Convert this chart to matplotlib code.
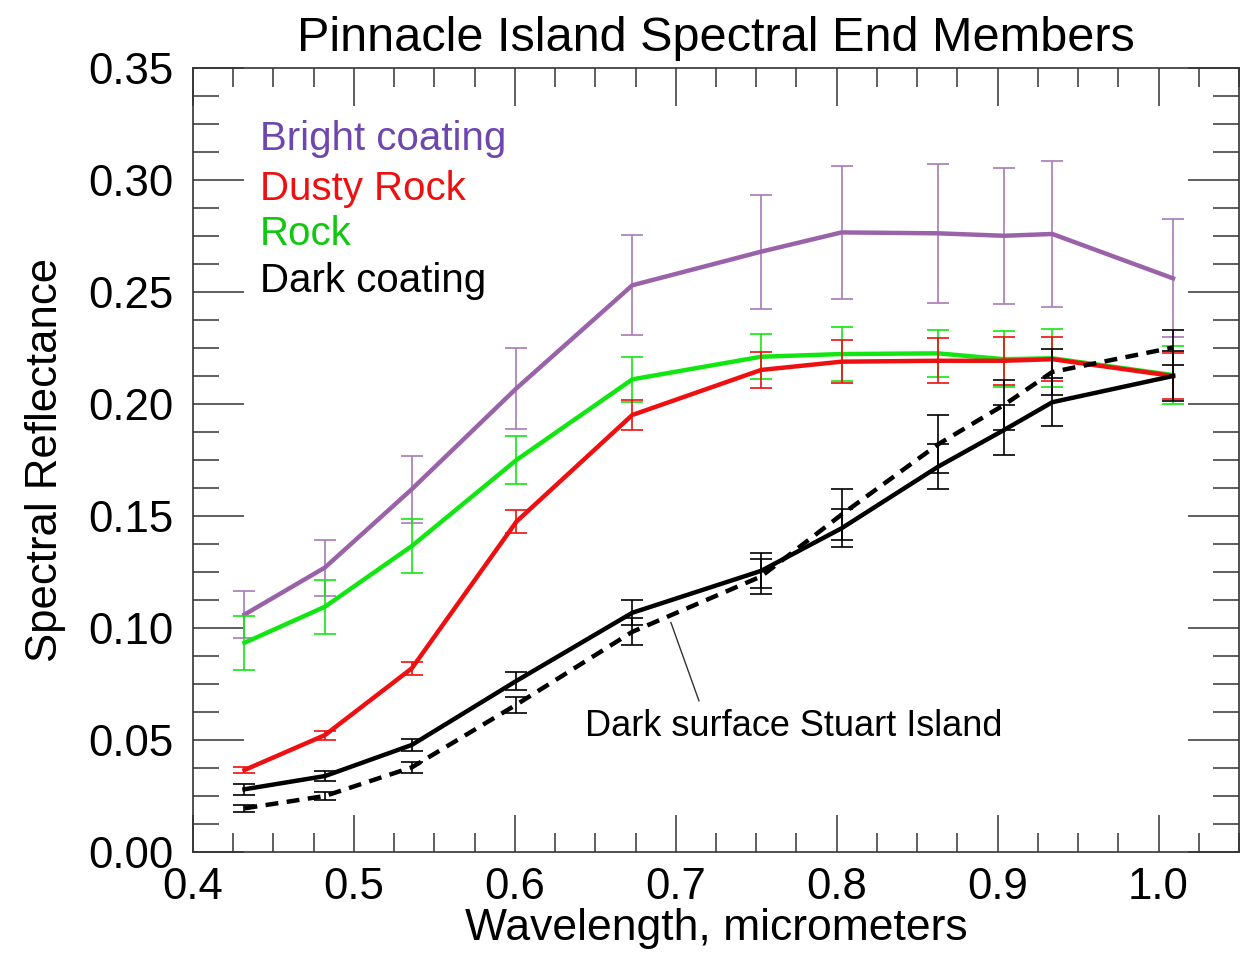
import matplotlib
matplotlib.use("Agg")
import matplotlib.pyplot as plt
from matplotlib.ticker import MultipleLocator, FormatStrFormatter

plt.rcParams['font.family'] = ['Liberation Sans', 'DejaVu Sans']

# ---- data ----
wavelength = [0.432, 0.482, 0.536, 0.601, 0.673, 0.753, 0.803, 0.863, 0.904, 0.934, 1.009]

bright = [0.106, 0.127, 0.162, 0.207, 0.253, 0.268, 0.2766, 0.2762, 0.2751, 0.2759, 0.2561]
bright_err = [0.0103, 0.0125, 0.015, 0.018, 0.0223, 0.0255, 0.0298, 0.031, 0.0304, 0.0324, 0.0263]

dusty = [0.0366, 0.0522, 0.082, 0.1475, 0.1951, 0.2152, 0.2189, 0.2193, 0.2193, 0.2200, 0.2125]
dusty_err = [0.0015, 0.002, 0.003, 0.0052, 0.0065, 0.008, 0.0097, 0.010, 0.0108, 0.0097, 0.0103]

rock = [0.0934, 0.1095, 0.1366, 0.175, 0.211, 0.2211, 0.2223, 0.2226, 0.2200, 0.2204, 0.2129]
rock_err = [0.012, 0.012, 0.012, 0.0107, 0.010, 0.010, 0.012, 0.0104, 0.0125, 0.013, 0.013]

dark = [0.028, 0.0339, 0.0478, 0.0764, 0.1068, 0.1255, 0.1445, 0.172, 0.1884, 0.2008, 0.2125]
dark_err = [0.0025, 0.0023, 0.0026, 0.004, 0.0056, 0.0078, 0.0085, 0.010, 0.011, 0.0107, 0.011]

stuart = [0.0195, 0.025, 0.0378, 0.0658, 0.0983, 0.123, 0.1506, 0.182, 0.1996, 0.2143, 0.2252]
stuart_err = [0.0015, 0.002, 0.0025, 0.0036, 0.006, 0.0077, 0.0113, 0.013, 0.011, 0.0103, 0.0078]

labels = ["Bright coating", "Dusty Rock", "Rock", "Dark coating"]
title = "Pinnacle Island Spectral End Members"
annotation = "Dark surface Stuart Island"

# ---- figure ----
fig = plt.figure(figsize=(12.55, 9.56), dpi=100)
ax = fig.add_axes([193/1255, 104/956, (1239-193)/1255, (852-68)/956])

lw = 3.2
elw = 1.2
cap = 8

purple = '#9a62a8'
purple_e = '#a87ab6'
green = '#12e612'
red = '#ee1010'

ax.errorbar(wavelength, bright, yerr=bright_err, color=purple, ecolor=purple_e,
            lw=lw, elinewidth=elw, capsize=cap, capthick=elw, zorder=3)
ax.errorbar(wavelength, rock, yerr=rock_err, color=green,
            lw=lw, elinewidth=elw, capsize=cap, capthick=elw, zorder=4)
ax.errorbar(wavelength, dusty, yerr=dusty_err, color=red,
            lw=lw, elinewidth=elw, capsize=cap, capthick=elw, zorder=5)
eb = ax.errorbar(wavelength, stuart, yerr=stuart_err, color='black',
            lw=lw, elinewidth=elw, capsize=cap, capthick=elw, zorder=6)
eb[0].set_linestyle((0, (2.9, 1.9)))
ax.errorbar(wavelength, dark, yerr=dark_err, color='black',
            lw=lw, elinewidth=elw, capsize=cap, capthick=elw, zorder=7)

ax.set_xlim(0.4, 1.05)
ax.set_ylim(0.0, 0.35)

ax.xaxis.set_major_locator(MultipleLocator(0.1))
ax.xaxis.set_minor_locator(MultipleLocator(0.025))
ax.yaxis.set_major_locator(MultipleLocator(0.05))
ax.yaxis.set_minor_locator(MultipleLocator(0.0125))
ax.xaxis.set_major_formatter(FormatStrFormatter('%.1f'))
ax.yaxis.set_major_formatter(FormatStrFormatter('%.2f'))

ax.tick_params(axis='both', which='both', direction='in', top=True, right=True,
               width=1.1, color='#333333')
ax.tick_params(axis='x', which='major', length=27, pad=11, labelsize=31.5)
ax.tick_params(axis='x', which='minor', length=13.5)
ax.tick_params(axis='y', which='major', length=37, pad=14, labelsize=31.5)
ax.tick_params(axis='y', which='minor', length=18.5)
for s in ax.spines.values():
    s.set_linewidth(1.2)
    s.set_color('#333333')

ax.set_title(title, fontsize=35, pad=12)
ax.set_xlabel("Wavelength, micrometers", fontsize=32, labelpad=0)
ax.set_ylabel("Spectral Reflectance", fontsize=31.5, labelpad=16)

label_colors = ['#6e46b0', '#ee1010', '#10c810', 'black']
label_y = [0.3134, 0.2911, 0.2710, 0.2501]
for t, c, yy in zip(labels, label_colors, label_y):
    ax.text(0.4417, yy, t, color=c, fontsize=29, va='baseline', ha='left')

ax.text(0.6437, 0.0518, annotation, fontsize=26, va='baseline', ha='left')
ax.plot([0.697, 0.7144], [0.1024, 0.0675], color='#333333', lw=1.0, zorder=8)

fig.savefig('out.png', dpi=100)
